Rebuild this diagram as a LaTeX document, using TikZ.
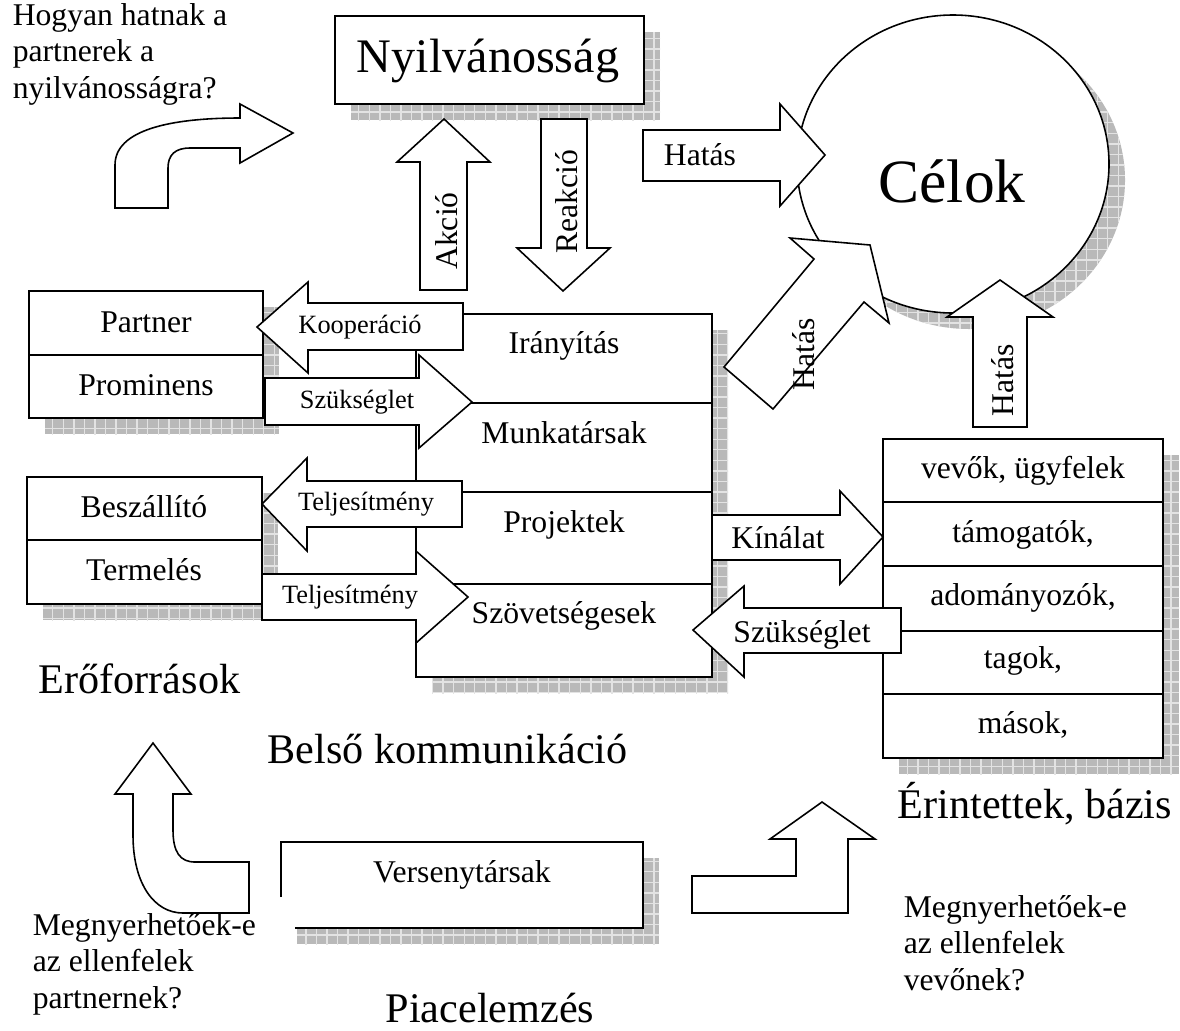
\documentclass[tikz,border=0pt]{standalone}
\usepackage{fontspec}
\setmainfont{Liberation Serif}
\usetikzlibrary{patterns}

\begin{document}
\begin{tikzpicture}[x=0.01cm, y=-0.01cm, line width=0.45pt,
    shadowbox/.style={preaction={fill=gray!55}, pattern=grid, pattern color=gray!22},
    boxw/.style={draw=black, fill=white},
    txt/.style={inner sep=0pt, font=\fontsize{9}{10}\selectfont},
    smalltxt/.style={inner sep=0pt, font=\fontsize{7.5}{9}\selectfont},
    bigtxt/.style={inner sep=0pt, font=\fontsize{12}{14}\selectfont},
    quest/.style={inner sep=0pt, align=left, font=\fontsize{9}{10.25}\selectfont}]
        \useasboundingbox (0,0) rectangle (1180,1030);

        \path[shadowbox] (351,32) rectangle (660,120);
        \path[shadowbox] (969,180) ellipse [x radius=156, y radius=149];
        \path[shadowbox] (45,307) rectangle (279,434);
        \path[shadowbox] (43,493) rectangle (278,620);
        \path[shadowbox] (432,330) rectangle (728,693);
        \path[shadowbox] (899,455) rectangle (1179,774);
        \path[shadowbox] (297,858) rectangle (659,944);

        \draw[boxw] (335,16) rectangle (644,104);
        \draw[boxw] (953,164) ellipse [x radius=156, y radius=149];
        \draw[boxw] (29,291) rectangle (263,355);
        \draw[boxw] (29,355) rectangle (263,418);
        \draw[boxw] (27,477) rectangle (262,540);
        \draw[boxw] (27,540) rectangle (262,604);
        \draw[boxw] (416,314) rectangle (712,403);
        \draw[boxw] (416,403) rectangle (712,492);
        \draw[boxw] (416,492) rectangle (712,584);
        \draw[boxw] (416,584) rectangle (712,677);
        \draw[boxw] (883,439) rectangle (1163,502);
        \draw[boxw] (883,502) rectangle (1163,566);
        \draw[boxw] (883,566) rectangle (1163,631);
        \draw[boxw] (883,631) rectangle (1163,694);
        \draw[boxw] (883,694) rectangle (1163,758);
        \fill[white] (281,842) rectangle (643,928);
        \draw (281,897) -- (281,842) -- (643,842) -- (643,928) -- (295,928);

        \draw[boxw] (115,208) -- (115,165) .. controls (115,130) and (170,118) .. (240,118) -- (240,104) -- (293,133) -- (240,163) -- (240,148) -- (190,148) .. controls (175,148) and (168,155) .. (168,168) -- (168,208) -- cycle;
        \draw[boxw] (420,290) -- (420,162) -- (397,162) -- (444,119) -- (490,162) -- (467,162) -- (467,290) -- cycle;
        \draw[boxw] (541,119) -- (587,119) -- (587,248) -- (610,248) -- (563,291) -- (517,248) -- (541,248) -- cycle;
        \draw[boxw] (643,130) -- (780,130) -- (780,104) -- (825,155) -- (780,206) -- (780,181) -- (643,181) -- cycle;
        \draw[boxw] (724,367) -- (814,259) -- (790,238) -- (870,245) -- (889,323) -- (864,302) -- (773,409) -- cycle;
        \draw[boxw] (973,427) -- (973,317) -- (947,317) -- (1000,280) -- (1053,317) -- (1027,317) -- (1027,427) -- cycle;
        \draw[boxw] (463,303) -- (308,303) -- (308,282) -- (257,327) -- (308,373) -- (308,350) -- (463,350) -- cycle;
        \draw[boxw] (265,378) -- (419,378) -- (419,355) -- (472,402) -- (419,448) -- (419,425) -- (265,425) -- cycle;
        \draw[boxw] (462,481) -- (307,481) -- (307,458) -- (262,504) -- (307,551) -- (307,527) -- (462,527) -- cycle;
        \draw[boxw] (262,574) -- (416,574) -- (416,551) -- (468,597) -- (416,643) -- (416,620) -- (262,620) -- cycle;
        \draw[boxw] (712,515) -- (840,515) -- (840,491) -- (883,537) -- (840,584) -- (840,560) -- (712,560) -- cycle;
        \draw[boxw] (901,608) -- (744,608) -- (744,586) -- (693,630) -- (744,677) -- (744,653) -- (901,653) -- cycle;
        \draw[boxw] (133,794) -- (115,794) -- (153,743) -- (191,794) -- (173,794) -- (173,830) .. controls (173,852) and (180,862) .. (195,862) -- (249,862) -- (249,913) -- (183,913) .. controls (155,913) and (133,885) .. (133,835) -- cycle;
        \draw[boxw] (692,876) -- (796,876) -- (796,839) -- (770,839) -- (822,802) -- (875,839) -- (848,839) -- (848,913) -- (692,913) -- cycle;

        \node[quest, anchor=base west] (Q1) at (12,98) {Hogyan hatnak a\\partnerek a\\nyilvánosságra?};
        \node[inner sep=0pt, font=\fontsize{13.7}{15}\selectfont, anchor=base] (Ny) at (488,72) {Nyilvánosság};
        \node[inner sep=0pt, font=\fontsize{17.5}{20}\selectfont, anchor=base] (Ce) at (952,202) {Célok};
        \node[txt, rotate=90, anchor=base] (Ak) at (457,231) {Akció};
        \node[txt, rotate=90, anchor=base] (Re) at (577,202) {Reakció};
        \node[txt, anchor=base] (H1) at (700,165) {Hatás};
        \node[txt, rotate=90, anchor=base] (H2) at (814,354) {Hatás};
        \node[txt, rotate=90, anchor=base] (H3) at (1013,380) {Hatás};

        \node[txt, anchor=base] (Pa) at (146,332) {Partner};
        \node[txt, anchor=base] (Pr) at (146,395) {Prominens};
        \node[txt, anchor=base] (Be) at (144,517) {Beszállító};
        \node[txt, anchor=base] (Te) at (144,580) {Termelés};
        \node[smalltxt, anchor=base] (Ko) at (360,333) {Kooperáció};
        \node[smalltxt, anchor=base] (Sz1) at (357,408) {Szükséglet};
        \node[smalltxt, anchor=base] (Tj1) at (366,510) {Teljesítmény};
        \node[smalltxt, anchor=base] (Tj2) at (350,603) {Teljesítmény};

        \node[txt, anchor=base] (Ir) at (564,353) {Irányítás};
        \node[txt, anchor=base] (Mu) at (564,443) {Munkatársak};
        \node[txt, anchor=base] (Pj) at (564,532) {Projektek};
        \node[txt, anchor=base] (Sv) at (564,623) {Szövetségesek};
        \node[txt, anchor=base] (Ki) at (778,548) {Kínálat};
        \node[txt, anchor=base] (Sz2) at (802,642) {Szükséglet};

        \node[txt, anchor=base] (Ve) at (1023,478) {vevők, ügyfelek};
        \node[txt, anchor=base] (Tm) at (1023,542) {támogatók,};
        \node[txt, anchor=base] (Ad) at (1023,605) {adományozók,};
        \node[txt, anchor=base] (Ta) at (1023,668) {tagok,};
        \node[txt, anchor=base] (Ma) at (1023,733) {mások,};

        \node[bigtxt, anchor=base west] (Ef) at (38,693) {Erőforrások};
        \node[bigtxt, anchor=base west] (Bk) at (267,763) {Belső kommunikáció};
        \node[bigtxt, anchor=base west] (Er) at (897,818) {Érintettek, bázis};
        \node[txt, anchor=base] (Vt) at (462,882) {Versenytársak};
        \node[bigtxt, anchor=base west] (Pi) at (385,1022) {Piacelemzés};
        \node[quest, anchor=base west] (Q2) at (32,1008) {Megnyerhetőek-e\\az ellenfelek\\partnernek?};
        \node[quest, anchor=base west] (Q3) at (903,990) {Megnyerhetőek-e\\az ellenfelek\\vevőnek?};
    \end{tikzpicture}
\end{document}
